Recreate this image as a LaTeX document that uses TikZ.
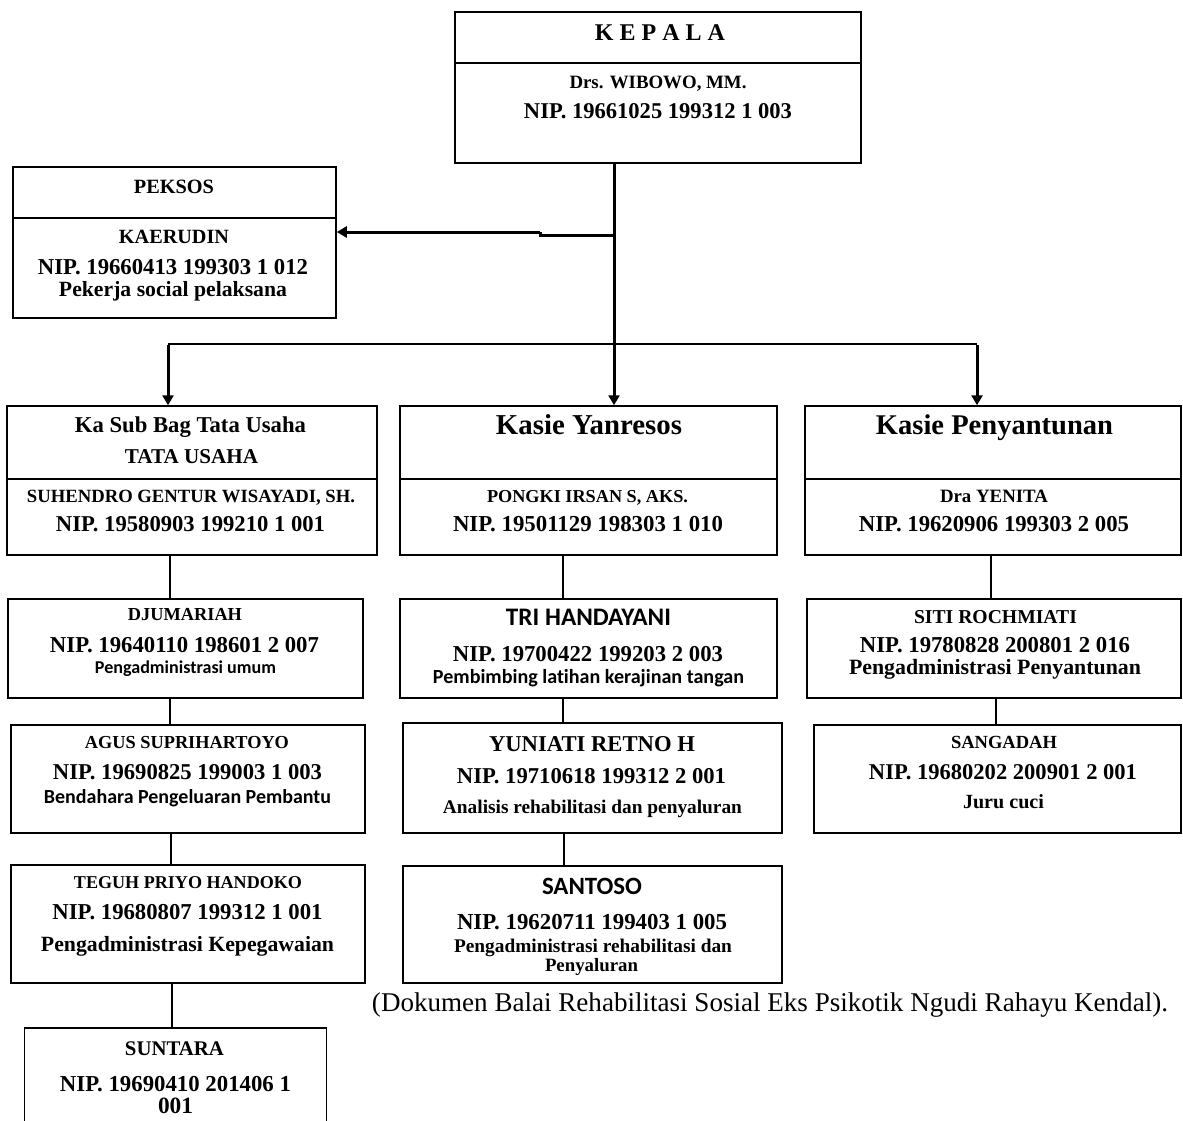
\documentclass[tikz,border=0pt]{standalone}
\usepackage{graphicx}
\usepackage{fontspec}
\setmainfont[Ligatures=NoCommon]{Liberation Serif}
\newfontfamily\calfont[Ligatures=NoCommon]{Carlito}
\usetikzlibrary{arrows.meta}
\newcommand\fw[2]{\resizebox{#1pt}{!}{#2\vphantom{Ay}}}
\tikzset{
  box/.style={draw=black, line width=1.5pt, rectangle, inner sep=0pt},
  txt/.style={inner sep=0pt, yshift=-1.5pt, font=\bfseries},
  ctxt/.style={inner sep=0pt, yshift=-1.5pt, font=\calfont\bfseries},
  link/.style={draw=black, line width=1.5pt},
  arr/.style={draw=black, line width=3pt, -{Triangle[width=11pt,length=10pt]}},
}
\begin{document}
\begin{tikzpicture}[x=1pt,y=-1pt]
\useasboundingbox (0,0) rectangle (1183,1120);
\clip (0,0) rectangle (1183,1120);
\fill[white] (0,0) rectangle (1183,1120);

% boxes
\node[box, minimum width=406pt, minimum height=151pt] (kep) at (658,87.5) {};
\node[box, minimum width=323pt, minimum height=151pt] (pek) at (174.5,242.5) {};
\node[box, minimum width=370pt, minimum height=149pt] (tu)  at (192,480.5) {};
\node[box, minimum width=377pt, minimum height=149pt] (yan) at (588.5,480.5) {};
\node[box, minimum width=376pt, minimum height=149pt] (pen) at (993,480.5) {};
\node[box, minimum width=355pt, minimum height=99pt]  (dju) at (185.5,648.5) {};
\node[box, minimum width=354pt, minimum height=108pt] (agu) at (188,779) {};
\node[box, minimum width=354pt, minimum height=118pt] (teg) at (188,924) {};
\node[box, minimum width=302pt, minimum height=110pt] (sun) at (175.5,1083) {};
\node[box, minimum width=377pt, minimum height=99pt]  (tri) at (588.5,648.5) {};
\node[box, minimum width=379pt, minimum height=110pt] (yun) at (592.5,778) {};
\node[box, minimum width=379pt, minimum height=117pt] (san) at (592.5,924.5) {};
\node[box, minimum width=374pt, minimum height=99pt]  (sit) at (994,648.5) {};
\node[box, minimum width=367pt, minimum height=108pt] (sag) at (997.5,779) {};

% dividers
\draw[link] (kep.west |- 0,63) -- (kep.east |- 0,63);
\draw[link] (pek.west |- 0,218) -- (pek.east |- 0,218);
\draw[link] (tu.west |- 0,479) -- (tu.east |- 0,479);
\draw[link] (yan.west |- 0,479) -- (yan.east |- 0,479);
\draw[link] (pen.west |- 0,479) -- (pen.east |- 0,479);

% texts
\node[txt] (t-kep1) at (660,34) {\fw{130}{K E P A L A}};
\node[txt] (t-kep2) at (658,83) {\fw{177}{Drs. WIBOWO, MM.}};
\node[txt] (t-kep3) at (658,112) {\fw{268}{NIP. 19661025 199312 1 003}};

\node[txt] (t-pek1) at (174,187) {\fw{80}{PEKSOS}};
\node[txt] (t-pek2) at (174,238) {\fw{110}{KAERUDIN}};
\node[txt] (t-pek3) at (173,268) {\fw{270}{NIP. 19660413 199303 1 012}};
\node[txt] (t-pek4) at (173,290) {\fw{228}{Pekerja social pelaksana}};

\node[txt] (t-tu1) at (190.5,426) {\fw{231}{Ka Sub Bag Tata Usaha}};
\node[txt] (t-tu2) at (191.5,457) {\fw{133}{TATA USAHA}};
\node[txt] (t-tu3) at (191,497) {\fw{328}{SUHENDRO GENTUR WISAYADI, SH.}};
\node[txt] (t-tu4) at (190.5,525) {\fw{269}{NIP. 19580903 199210 1 001}};

\node[txt] (t-yan1) at (589,426) {\fw{186}{Kasie Yanresos}};
\node[txt] (t-yan2) at (587.5,497) {\fw{201}{PONGKI IRSAN S, AKS.}};
\node[txt] (t-yan3) at (588,525) {\fw{270}{NIP. 19501129 198303 1 010}};

\node[txt] (t-pen1) at (994.5,426) {\fw{237}{Kasie Penyantunan}};
\node[txt] (t-pen2) at (994,497) {\fw{108}{Dra YENITA}};
\node[txt] (t-pen3) at (994,525) {\fw{270}{NIP. 19620906 199303 2 005}};

\node[txt] (t-dju1) at (185,615) {\fw{114}{DJUMARIAH}};
\node[txt] (t-dju2) at (184.5,646) {\fw{269}{NIP. 19640110 198601 2 007}};
\node[ctxt] (t-dju3) at (185.5,667) {\fw{181}{Pengadministrasi umum}};

\node[txt] (t-agu1) at (187,743) {\fw{204}{AGUS SUPRIHARTOYO}};
\node[txt] (t-agu2) at (187.5,773) {\fw{269}{NIP. 19690825 199003 1 003}};
\node[ctxt] (t-agu3) at (187.5,797) {\fw{287}{Bendahara Pengeluaran Pembantu}};

\node[txt] (t-teg1) at (188,883) {\fw{228}{TEGUH PRIYO HANDOKO}};
\node[txt] (t-teg2) at (187.5,913) {\fw{270}{NIP. 19680807 199312 1 001}};
\node[txt] (t-teg3) at (187.5,945) {\fw{293}{Pengadministrasi Kepegawaian}};

\node[txt] (t-sun1) at (174.5,1049) {\fw{99}{SUNTARA}};
\node[txt] (t-sun2) at (175.5,1085) {\fw{231}{NIP. 19690410 201406 1}};
\node[txt] (t-sun3) at (175.5,1107) {\fw{35}{001}};

\node[ctxt] (t-tri1) at (588.5,618) {\fw{165}{TRI HANDAYANI}};
\node[txt] (t-tri2) at (588,655) {\fw{270}{NIP. 19700422 199203 2 003}};
\node[ctxt] (t-tri3) at (588.5,677) {\fw{311}{Pembimbing latihan kerajinan tangan}};

\node[txt] (t-yun1) at (592,745) {\fw{206}{YUNIATI RETNO H}};
\node[txt] (t-yun2) at (591.5,777) {\fw{269}{NIP. 19710618 199312 2 001}};
\node[txt] (t-yun3) at (592.5,807) {\fw{299}{Analisis rehabilitasi dan penyaluran}};

\node[ctxt] (t-san1) at (592,887) {\fw{100}{SANTOSO}};
\node[txt] (t-san2) at (592,923) {\fw{270}{NIP. 19620711 199403 1 005}};
\node[txt] (t-san3) at (593,946) {\fw{278}{Pengadministrasi rehabilitasi dan}};
\node[txt] (t-san4) at (591.5,965) {\fw{93}{Penyaluran}};

\node[txt] (t-sit1) at (995.5,618) {\fw{163}{SITI ROCHMIATI}};
\node[txt] (t-sit2) at (995,646) {\fw{270}{NIP. 19780828 200801 2 016}};
\node[txt] (t-sit3) at (995,668) {\fw{292}{Pengadministrasi Penyantunan}};

\node[txt] (t-sag1) at (1004,743) {\fw{106}{SANGADAH}};
\node[txt] (t-sag2) at (1003,773) {\fw{268}{NIP. 19680202 200901 2 001}};
\node[txt] (t-sag3) at (1003.5,802) {\fw{81}{Juru cuci}};

\node[inner sep=0pt] (cap) at (770,1005) {\fw{796}{(Dokumen Balai Rehabilitasi Sosial Eks Psikotik Ngudi Rahayu Kendal).}};

% column connectors
\draw[link] ([xshift=-22pt]tu.south) -- ([xshift=-15.5pt]dju.north);
\draw[link] ([xshift=-15.5pt]dju.south) -- ([xshift=-18pt]agu.north);
\draw[link] ([xshift=-17pt]agu.south) -- ([xshift=-17pt]teg.north);
\draw[link] ([xshift=-16pt]teg.south) -- ([xshift=-3.5pt]sun.north);
\draw[link] ([xshift=-25.5pt]yan.south) -- ([xshift=-25.5pt]tri.north);
\draw[link] ([xshift=-25.5pt]tri.south) -- ([xshift=-29.5pt]yun.north);
\draw[link] ([xshift=-28.5pt]yun.south) -- ([xshift=-28.5pt]san.north);
\draw[link] ([xshift=-2pt]pen.south) -- ([xshift=-3pt]sit.north);
\draw[link] ([xshift=2pt]sit.south) -- ([xshift=-1.5pt]sag.north);

% main connectors
\coordinate (j1) at (614,235);
\coordinate (j1b) at (540,232);
\coordinate (bl) at (168,344);
\coordinate (br) at (977,344);
\draw[arr] ([xshift=-44pt]kep.south) -- ([xshift=25.5pt]yan.north);
\draw[line width=3pt] (j1) -- (j1 -| j1b) -- (j1b);
\draw[arr] (j1b) -- (j1b -| pek.east);
\draw[link] (bl) -- (br);
\draw[arr] ([yshift=-0.75pt]bl) -- (bl |- tu.north);
\draw[arr] ([yshift=-0.75pt]br) -- (br |- pen.north);
\end{tikzpicture}
\end{document}
